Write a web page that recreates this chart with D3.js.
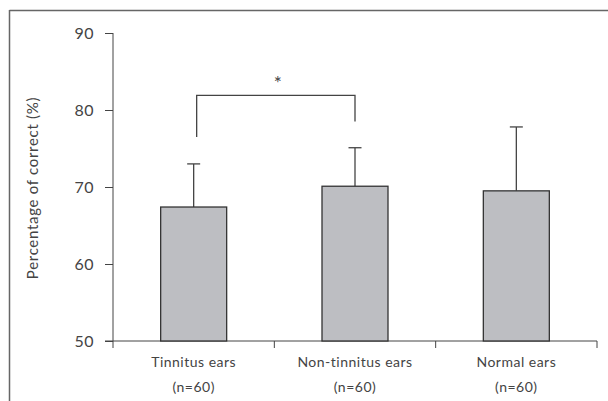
<!DOCTYPE html>
<html><head><meta charset="utf-8">
<script src="https://cdn.jsdelivr.net/npm/d3@7"></script>
<style>
body{margin:0;background:#fff;}
svg{display:block;}
text{font-family:"Lato","DejaVu Sans",sans-serif;fill:#444;}
</style></head>
<body><svg id="c" width="608" height="401"></svg>
<script>
const categories = ["Tinnitus ears", "Non-tinnitus ears", "Normal ears"];
const subLabels = ["(n=60)", "(n=60)", "(n=60)"];
const means = [67.4, 70.1, 69.5];
const errUpper = [73.0, 75.1, 77.8];
const yTicks = [50, 60, 70, 80, 90];
const bracket = {from: 0, to: 1, level: 81.9, leftEnd: 76.5, rightEnd: 78.5, label: "*"};

const svg = d3.select("#c");
const ink = "#444";
// frame (top and left)
svg.append("line").attr("x1",9.5).attr("x2",608).attr("y1",10.5).attr("y2",10.5).attr("stroke","#666").attr("stroke-width",1.5);
svg.append("line").attr("x1",9.5).attr("x2",9.5).attr("y1",10).attr("y2",401).attr("stroke","#666").attr("stroke-width",1.5);

const x = d3.scaleBand().domain(categories).range([113,597]).paddingInner(0).paddingOuter(0);
const y = d3.scaleLinear().domain([50,90]).range([341,33]);

// y axis
const ya = svg.append("g").attr("transform","translate(113,0)")
  .call(d3.axisLeft(y).tickValues(yTicks).tickSize(8).tickPadding(11).tickFormat(d3.format("d")));
ya.select(".domain").attr("stroke",ink).attr("d","M0,33V348");
ya.selectAll(".tick line").attr("stroke",ink);
ya.selectAll(".tick text").attr("font-size",16).style("fill","#444").style("letter-spacing","0.5px");

// x axis line and ticks
const xa = svg.append("g");
xa.append("line").attr("x1",105).attr("x2",597).attr("y1",341).attr("y2",341).attr("stroke",ink);
const bounds = categories.map(c=>x(c)).concat([x.range()[1]]);
xa.selectAll(".xt").data(bounds.slice(1)).enter().append("line")
  .attr("x1",d=>d).attr("x2",d=>d).attr("y1",341).attr("y2",348).attr("stroke",ink);

// labels
categories.forEach((c,i)=>{
  const cx = x(c)+x.bandwidth()/2;
  svg.append("text").attr("x",cx).attr("y",367).attr("text-anchor","middle").attr("font-size",14).style("letter-spacing","0.5px").text(c);
  svg.append("text").attr("x",cx).attr("y",392).attr("text-anchor","middle").attr("font-size",14).style("letter-spacing","0.5px").text(subLabels[i]);
});

// y title
svg.append("text").attr("transform","translate(38,188) rotate(-90)").attr("text-anchor","middle")
  .attr("font-size",15).style("letter-spacing","0.7px").text("Percentage of correct (%)");

// bars
const bw = 66;
const bars = svg.append("g");
categories.forEach((c,i)=>{
  const cx = x(c)+x.bandwidth()/2;
  bars.append("line").attr("x1",cx).attr("x2",cx).attr("y1",y(means[i])).attr("y2",y(errUpper[i])).attr("stroke",ink).attr("stroke-width",1.3);
  bars.append("line").attr("x1",cx-6.5).attr("x2",cx+6.5).attr("y1",y(errUpper[i])).attr("y2",y(errUpper[i])).attr("stroke",ink).attr("stroke-width",1.3);
  bars.append("rect").attr("x",cx-bw/2).attr("y",y(means[i])).attr("width",bw).attr("height",y(50)-y(means[i]))
    .attr("fill","#bdbec2").attr("stroke","#333").attr("stroke-width",1.3);
});

// significance bracket
const bx1 = x(categories[bracket.from])+x.bandwidth()/2+3;
const bx2 = x(categories[bracket.to])+x.bandwidth()/2;
svg.append("path").attr("fill","none").attr("stroke",ink).attr("stroke-width",1.3)
  .attr("d",`M${bx1},${y(bracket.leftEnd)}V${y(bracket.level)}H${bx2}V${y(bracket.rightEnd)}`);
svg.append("text").attr("x",(bx1+bx2)/2+2).attr("y",y(bracket.level)-5).attr("text-anchor","middle").attr("font-size",19).text(bracket.label);
</script></body></html>
